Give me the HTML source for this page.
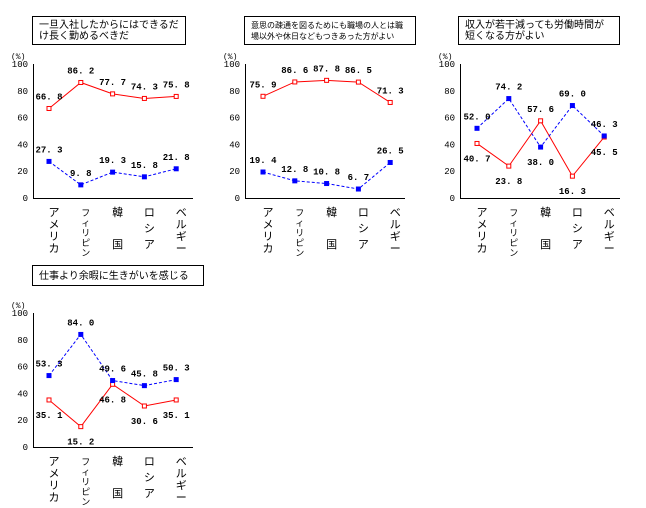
<!DOCTYPE html>
<html><head><meta charset="utf-8">
<style>
body{margin:0;background:#fff;}
svg{display:block;font-family:"Liberation Mono","Noto Sans CJK JP",monospace;}
</style></head>
<body>
<svg id="c" width="646" height="508" viewBox="0 0 646 508" xmlns="http://www.w3.org/2000/svg"></svg>
<script>
const categories = ["アメリカ","フィリピン","韓国","ロシア","ベルギー"];
const titles = [
  ["一旦入社したからにはできるだ","け長く勤めるべきだ"],
  ["意思の疎通を図るためにも職場の人とは職","場以外や休日などもつきあった方がよい"],
  ["収入が若干減っても労働時間が","短くなる方がよい"],
  ["仕事より余暇に生きがいを感じる"]
];
const redValues = [
  [66.8,86.2,77.7,74.3,75.8],
  [75.9,86.6,87.8,86.5,71.3],
  [40.7,23.8,57.6,16.3,45.5],
  [35.1,15.2,46.8,30.6,35.1]
];
const blueValues = [
  [27.3,9.8,19.3,15.8,21.8],
  [19.4,12.8,10.8,6.7,26.5],
  [52.0,74.2,38.0,69.0,46.3],
  [53.3,84.0,49.6,45.8,50.3]
];
const redSide = [["a","a","a","a","a"],["a","a","a","a","a"],["b","b","a","b","b"],["b","b","b","b","b"]];
const blueSide = [["a","a","a","a","a"],["a","a","a","a","a"],["a","a","b","a","a"],["a","a","a","a","a"]];
const yTicks = [0,20,40,60,80,100];

const panels = [
  {ax:33, top:64, bot:198, cx0:49, box:[32,16,153,28], fs:10},
  {ax:245, top:64, bot:198, cx0:263, box:[244,16,171,28], fs:8},
  {ax:460, top:64, bot:198, cx0:477, box:[458,16,161,28], fs:10},
  {ax:33, top:313, bot:447, cx0:49, box:[32,265,171,20], fs:10}
];
const svg = document.getElementById('c');
const NS = "http://www.w3.org/2000/svg";
function mk(tag, attrs, parent){const e=document.createElementNS(NS,tag);for(const k in attrs)e.setAttribute(k,attrs[k]);(parent||svg).appendChild(e);return e;}
function fmt(v){const s=v.toFixed(1).split('.');return s[0]+'. '+s[1];}

panels.forEach((p,pi)=>{
  const g = mk('g',{});
  
  
  const y = v => p.bot - (v/100)*(p.bot-p.top);
  const x = i => p.cx0 + i*31.8;
  const b = mk('rect',{x:p.box[0]+.5,y:p.box[1]+.5,width:p.box[2],height:p.box[3],fill:'#fff',stroke:'#000'},g);
  
  
  titles[pi].forEach((t,li)=>{
    const tt = mk('text',{x:p.box[0]+7,y:p.box[1]+(titles[pi].length>1?12+li*11:14),'font-size':p.fs,fill:'#000'},g);
    tt.textContent=t;
    
    
  });
  const ya = mk('line',{x1:p.ax+.5,y1:p.top,x2:p.ax+.5,y2:p.bot,stroke:'#000'},g);
  
  
  const xa = mk('line',{x1:p.ax,y1:p.bot+.5,x2:p.ax+160,y2:p.bot+.5,stroke:'#000'},g);
  
  
  const unit = mk('text',{x:p.ax-22,y:p.top-5,'font-size':'8',fill:'#000'},g);
  unit.textContent='(%)';
  
  
  yTicks.forEach(t=>{
    const tl = mk('text',{x:p.ax-5,y:y(t)+3,'font-size':'9','text-anchor':'end',fill:'#000'},g);
    tl.textContent=t;
    
    
  });
  categories.forEach((c,i)=>{
    const chars = c==="韓国"?["韓","","国"]:c==="ロシア"?["ロ","シ","ア"]:Array.from(c);
    const step = (c==="韓国"||c==="ロシア")?16:(c==="フィリピン"?10:12);
    chars.forEach((ch,k)=>{
      if(!ch)return;
      const ct = mk('text',{x:x(i)+5,y:p.bot+18+k*step,'font-size':(c==="フィリピン"?'9':'11'),'text-anchor':'middle',fill:'#000'},g);
      ct.textContent=ch;
      
      
    });
  });
  function series(vals, sides, color, dashed, name){
    const pts = vals.map((v,i)=>x(i)+','+y(v)).join(' ');
    const pl = mk('polyline',{points:pts,fill:'none',stroke:color,'stroke-width':1,'stroke-dasharray':dashed?'3,2':'none'},g);
    
    
    vals.forEach((v,i)=>{
      const m = mk('rect',{x:x(i)-2,y:y(v)-2,width:4,height:4,fill:dashed?color:'#fff',stroke:color,'stroke-width':1},g);
      
      
      const ly = sides[i]==='a'? y(v)-9 : y(v)+18;
      const lt = mk('text',{x:x(i),y:ly,'font-size':'9','font-weight':'bold','text-anchor':'middle',fill:'#000'},g);
      lt.textContent=fmt(v);
      
      
    });
  }
  series(redValues[pi], redSide[pi], '#ff0000', false, 'red-series');
  series(blueValues[pi], blueSide[pi], '#0000ff', true, 'blue-series');
});
</script>
</body></html>
